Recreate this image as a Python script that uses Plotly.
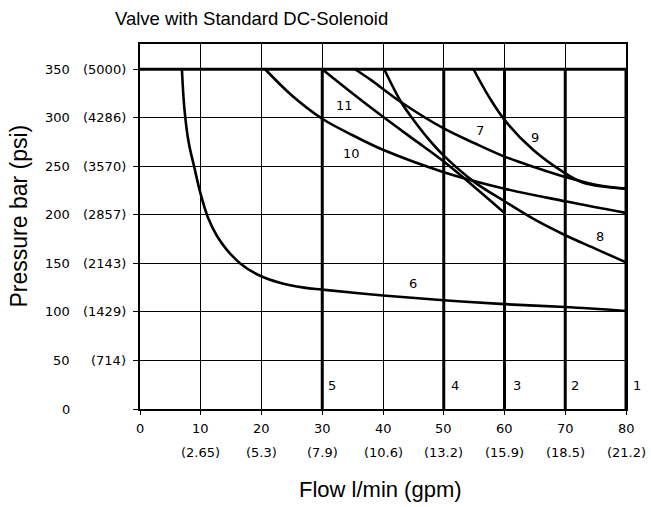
import plotly.graph_objects as go

# ---------------- data ----------------
title_text = "Valve with Standard DC-Solenoid"
x_title = "Flow l/min (gpm)"
y_title = "Pressure bar (psi)"

x_ticks = [0, 10, 20, 30, 40, 50, 60, 70, 80]
x_gpm = ["", "(2.65)", "(5.3)", "(7.9)", "(10.6)", "(13.2)", "(15.9)", "(18.5)", "(21.2)"]
y_ticks = [0, 50, 100, 150, 200, 250, 300, 350]
y_psi = ["", "(714)", "(1429)", "(2143)", "(2857)", "(3570)", "(4286)", "(5000)"]

max_pressure = 350
max_flow_x = [0, 80]

# vertical limits (curves 1-5)
vert_names = ["1", "2", "3", "4", "5"]
vert_flow = [80, 70, 60, 50, 30]

c6_x = [6.9, 7.3, 8.0, 8.9, 10.0, 11.2, 12.7, 14.3, 16.5, 19.5, 23.0, 27.0, 30.0, 40, 50, 60, 70, 80]
c6_y = [350, 310, 275, 250, 221, 197, 178, 164, 150, 138, 130, 125, 123, 117, 112, 108, 105, 101]

c7_x = [35.4, 38, 43, 50, 55, 60, 65, 70, 75, 80]
c7_y = [350, 339, 316, 289, 274, 260, 249, 239, 231, 227]

c8_x = [40.2, 43, 45, 47.5, 50, 55, 60, 65, 70, 75, 80]
c8_y = [350, 316, 298, 278, 261, 234, 214, 195, 179, 165, 151]

c9_x = [54.9, 57.5, 60.1, 64.7, 69.7, 73, 76.5, 80]
c9_y = [350, 321, 297, 267, 244, 233, 229, 227]

c10_x = [20.6, 25, 30, 35, 40, 50, 60, 70, 80]
c10_y = [350, 323, 299, 282, 267, 244, 227, 214, 202]

c11_x = [30, 35, 40, 45, 50, 55, 60]
c11_y = [350, 325, 301, 278, 255, 229, 202]

label_text = ["1", "2", "3", "4", "5", "6", "7", "8", "9", "10", "11"]
label_x = [80.0, 71.6, 62.0, 51.9, 31.6, 45.0, 56.0, 75.7, 65.0, 34.8, 33.7]
label_dx = [11, 0, 0, 0, 0, 0, 0, 0, 0, 0, 0]
label_y = [24.7, 24.7, 24.7, 24.7, 24.7, 129, 287, 178, 280, 263, 313]

# ---------------- figure ----------------
fig = go.Figure()
curve_w = 2.6
thick_w = 3.0

fig.add_trace(go.Scatter(x=max_flow_x, y=[max_pressure, max_pressure], mode="lines",
                         line=dict(color="black", width=thick_w), hoverinfo="skip"))
for fx in vert_flow:
    fig.add_trace(go.Scatter(x=[fx, fx], y=[0, max_pressure], mode="lines",
                             line=dict(color="black", width=thick_w), hoverinfo="skip"))
for cx, cy in [(c6_x, c6_y), (c7_x, c7_y), (c8_x, c8_y), (c9_x, c9_y), (c10_x, c10_y), (c11_x, c11_y)]:
    fig.add_trace(go.Scatter(x=cx, y=cy, mode="lines",
                             line=dict(color="black", width=curve_w, shape="spline", smoothing=1.0),
                             hoverinfo="skip"))

tick_font = dict(family="DejaVu Sans", size=13, color="black")
ann = []
for t, lx, dx, ly in zip(label_text, label_x, label_dx, label_y):
    ann.append(dict(x=lx, y=ly, text=t, showarrow=False, font=tick_font,
                    xanchor="center", yanchor="middle", xshift=dx))
for yv, ps in zip(y_ticks, y_psi):
    ann.append(dict(x=0, xref="paper", y=yv, yref="y", text=str(yv), showarrow=False,
                    font=tick_font, xanchor="right", yanchor="middle", xshift=-68))
    if ps:
        ann.append(dict(x=0, xref="paper", y=yv, yref="y", text=ps, showarrow=False,
                        font=tick_font, xanchor="right", yanchor="middle", xshift=-12))
for xv, gp in zip(x_ticks, x_gpm):
    ann.append(dict(x=xv, xref="x", y=0, yref="paper", text=str(xv), showarrow=False,
                    font=tick_font, xanchor="center", yanchor="middle", yshift=-19))
    if gp:
        ann.append(dict(x=xv, xref="x", y=0, yref="paper", text=gp, showarrow=False,
                        font=tick_font, xanchor="center", yanchor="middle", yshift=-43))
ann.append(dict(x=0.5, xref="paper", y=0, yref="paper", text=x_title, showarrow=False,
                font=dict(family="Liberation Sans", size=22, color="black"),
                xanchor="center", yanchor="middle", yshift=-80, xshift=-3))
ann.append(dict(x=0, xref="paper", y=0.5, yref="paper", text=y_title, showarrow=False,
                textangle=-90, font=dict(family="Liberation Sans", size=23, color="black"),
                xanchor="center", yanchor="middle", xshift=-122, yshift=10))
ann.append(dict(x=0, xref="paper", y=1, yref="paper", text=title_text, showarrow=False,
                font=dict(family="Liberation Sans", size=18.5, color="black"),
                xanchor="left", yanchor="middle", xshift=-27, yshift=26))

fig.update_layout(
    width=651, height=507,
    margin=dict(l=140, r=25, t=44, b=98),
    paper_bgcolor="white", plot_bgcolor="white",
    showlegend=False,
    annotations=ann,
    xaxis=dict(range=[0, 80], dtick=10, tick0=0, showgrid=True, gridcolor="black", gridwidth=1.3,
               showline=True, linecolor="black", linewidth=1.6, mirror=True, zeroline=False,
               ticks="outside", ticklen=4, tickcolor="black", showticklabels=False, fixedrange=True),
    yaxis=dict(range=[0, 376], tickvals=y_ticks, showgrid=True, gridcolor="black", gridwidth=1.3,
               showline=True, linecolor="black", linewidth=1.6, mirror=True, zeroline=False,
               ticks="outside", ticklen=5, tickcolor="black", showticklabels=False, fixedrange=True),
)

fig.write_html("out.html", config={"displayModeBar": False},
               post_script="document.body.style.margin='0';document.body.style.overflow='hidden';")
